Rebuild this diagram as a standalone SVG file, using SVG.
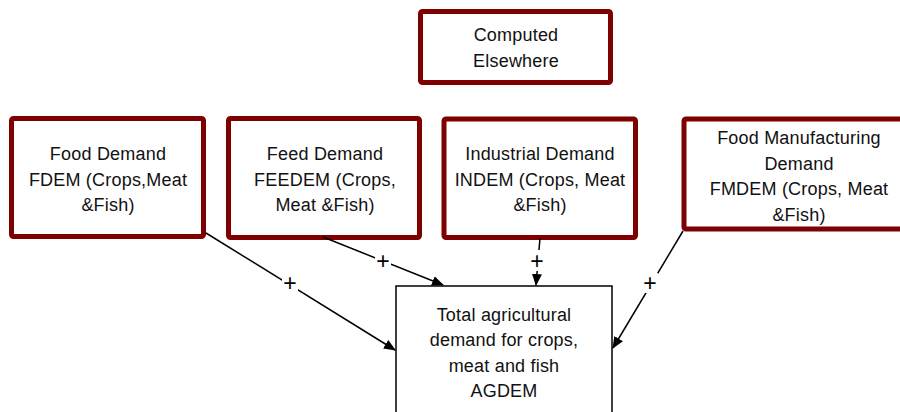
<svg xmlns="http://www.w3.org/2000/svg" width="900" height="412" viewBox="0 0 900 412">
<style>
.src{fill:#fff;stroke:#7f0000;stroke-width:5;}
.tgt{fill:#fff;stroke:#000;stroke-width:1.5;}
text{font-family:"Liberation Sans",Arial,sans-serif;font-size:18px;fill:#111;text-anchor:middle;letter-spacing:0.2px;}
.edge{stroke:#000;stroke-width:1.5;fill:none;marker-end:url(#arr);}
.lblbg{fill:#fff;stroke:none;}
.plus{font-size:23px;fill:#000;letter-spacing:0;}
</style>
<defs>
<marker id="arr" markerWidth="12" markerHeight="10" refX="11" refY="5" orient="auto" markerUnits="userSpaceOnUse">
<path d="M0,0 L12,5 L0,10 Z" fill="#000"/>
</marker>
</defs>
<rect width="900" height="412" fill="#fff"/>
<g id="computed">
<rect class="src" x="420.5" y="11.5" width="190" height="71" rx="2"/>
<text x="516" y="41">Computed</text>
<text x="516" y="67">Elsewhere</text>
</g>
<g id="fdem">
<rect class="src" x="11.5" y="118.5" width="192" height="118" rx="2"/>
<text x="108" y="160">Food Demand</text>
<text x="108" y="186">FDEM (Crops,Meat</text>
<text x="108" y="211">&amp;Fish)</text>
</g>
<g id="feedem">
<rect class="src" x="228.5" y="118.5" width="191" height="119" rx="2"/>
<text x="325" y="160">Feed Demand</text>
<text x="325" y="186">FEEDEM (Crops,</text>
<text x="325" y="211">Meat &amp;Fish)</text>
</g>
<g id="indem">
<rect class="src" x="444" y="119" width="191.5" height="118.5" rx="2"/>
<text x="540" y="160">Industrial Demand</text>
<text x="540" y="186">INDEM (Crops, Meat</text>
<text x="540" y="211">&amp;Fish)</text>
</g>
<g id="fmdem">
<rect class="src" x="684" y="119" width="222" height="110" rx="2"/>
<text x="799" y="144">Food Manufacturing</text>
<text x="799" y="170">Demand</text>
<text x="799" y="195">FMDEM (Crops, Meat</text>
<text x="799" y="221">&amp;Fish)</text>
</g>
<g id="agdem">
<rect class="tgt" x="396" y="286" width="216" height="140"/>
<text x="504" y="321">Total agricultural</text>
<text x="504" y="346">demand for crops,</text>
<text x="504" y="372">meat and fish</text>
<text x="504" y="397">AGDEM</text>
</g>
<g id="connectors">
<path class="edge" d="M206,233 L395,350"/>
<path class="edge" d="M323,237 L443,285"/>
<path class="edge" d="M540,238 L536,285"/>
<path class="edge" d="M683,231 L613,348"/>
<rect class="lblbg" x="282" y="273" width="16" height="20"/>
<text class="plus" x="290" y="291">+</text>
<rect class="lblbg" x="375" y="251" width="16" height="20"/>
<text class="plus" x="383" y="269">+</text>
<rect class="lblbg" x="529" y="250" width="16" height="21"/>
<text class="plus" x="537" y="269">+</text>
<rect class="lblbg" x="642" y="273" width="16" height="20"/>
<text class="plus" x="650" y="291">+</text>
</g>
</svg>
